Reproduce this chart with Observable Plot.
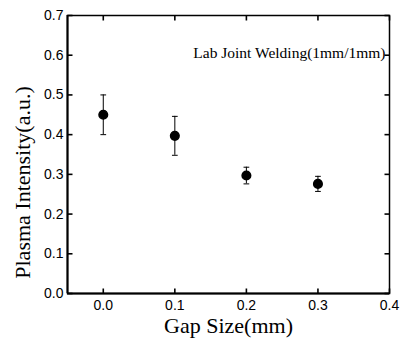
<!DOCTYPE html>
<html>
<head>
<meta charset="utf-8">
<script src="https://cdn.jsdelivr.net/npm/d3@7"></script>
<script src="https://cdn.jsdelivr.net/npm/@observablehq/plot@0.6"></script>
<style>
  html, body { margin: 0; padding: 0; background: white; }
  svg { display: block; }
</style>
</head>
<body>
<div id="chart"></div>
<script>
const gap = [0.0, 0.1, 0.2, 0.3];
const intensity = [0.45, 0.397, 0.297, 0.276];
const err = [0.05, 0.049, 0.021, 0.019];
const xTicks = [0.0, 0.1, 0.2, 0.3, 0.4];
const yTicks = [0.0, 0.1, 0.2, 0.3, 0.4, 0.5, 0.6, 0.7];
const xLabel = "Gap Size(mm)";
const yLabel = "Plasma Intensity(a.u.)";
const note = "Lab Joint Welding(1mm/1mm)";

const data = gap.map((g, i) => ({x: g, y: intensity[i], lo: intensity[i] - err[i], hi: intensity[i] + err[i]}));
const fmt = d3.format(".1f");
const sans = "Liberation Sans, Arial, sans-serif";
const serif = "Liberation Serif, Times New Roman, serif";
const capW = 0.004;
const xMin = -0.05, xMax = 0.4, yMin = 0, yMax = 0.7;

const W = 400, H = 345, mL = 67, mR = 11, mT = 15, mB = 52;
const tickLen = 5;
const frameW = W - mL - mR, frameH = H - mT - mB;
const tx = tickLen / frameW * (xMax - xMin);
const ty = tickLen / frameH * (yMax - yMin);

const bottomTicks = xTicks.map(v => ({a: v, b1: yMin, b2: yMin + ty}));
const topTicks = xTicks.map(v => ({a: v, b1: yMax, b2: yMax - ty}));
const leftTicks = yTicks.map(v => ({a: v, b1: xMin, b2: xMin + tx}));
const rightTicks = yTicks.map(v => ({a: v, b1: xMax, b2: xMax - tx}));
const tk = {stroke: "black", strokeWidth: 1.6};

const chart = Plot.plot({
  width: W,
  height: H,
  marginLeft: mL,
  marginRight: mR,
  marginTop: mT,
  marginBottom: mB,
  x: {domain: [xMin, xMax]},
  y: {domain: [yMin, yMax]},
  style: {background: "white", color: "black"},
  marks: [
    Plot.frame({stroke: "black", strokeWidth: 1.5}),
    Plot.ruleY([yMin], {stroke: "black", strokeWidth: 2}),
    Plot.ruleX([xMin], {stroke: "black", strokeWidth: 2}),
    Plot.axisX({ticks: xTicks, anchor: "bottom", tickSize: 0, tickPadding: 7, tickFormat: fmt, fontSize: 14, fontFamily: sans, label: null}),
    Plot.axisY({ticks: yTicks, anchor: "left", tickSize: 0, tickPadding: 4, tickFormat: fmt, fontSize: 14, fontFamily: sans, label: null}),
    // inward ticks on all four sides (drawn as links, like the error-bar caps)
    Plot.link(bottomTicks, {x1: "a", x2: "a", y1: "b1", y2: "b2", ...tk}),
    Plot.link(topTicks, {x1: "a", x2: "a", y1: "b1", y2: "b2", ...tk}),
    Plot.link(leftTicks, {y1: "a", y2: "a", x1: "b1", x2: "b2", ...tk}),
    Plot.link(rightTicks, {y1: "a", y2: "a", x1: "b1", x2: "b2", ...tk}),
    Plot.ruleX(data, {x: "x", y1: "lo", y2: "hi", stroke: "black", strokeWidth: 1}),
    Plot.link(data, {x1: d => d.x - capW, x2: d => d.x + capW, y1: "hi", y2: "hi", stroke: "black", strokeWidth: 1}),
    Plot.link(data, {x1: d => d.x - capW, x2: d => d.x + capW, y1: "lo", y2: "lo", stroke: "black", strokeWidth: 1}),
    Plot.dot(data, {x: "x", y: "y", r: 4.3, fill: "black", stroke: "black"}),
    Plot.text([note], {frameAnchor: "top-right", text: d => d, textAnchor: "end", lineAnchor: "middle", dx: -4, dy: 38, fontSize: 15.5, fontFamily: serif, fill: "black"}),
    Plot.text([xLabel], {frameAnchor: "bottom", text: d => d, textAnchor: "middle", lineAnchor: "middle", dy: 32, fontSize: 22, fontFamily: serif, fill: "black"}),
    Plot.text([yLabel], {frameAnchor: "left", text: d => d, textAnchor: "middle", lineAnchor: "middle", rotate: -90, dx: -45, dy: 28, fontSize: 22, fontFamily: serif, fill: "black"})
  ]
});
document.getElementById("chart").appendChild(chart);
</script>
</body>
</html>
